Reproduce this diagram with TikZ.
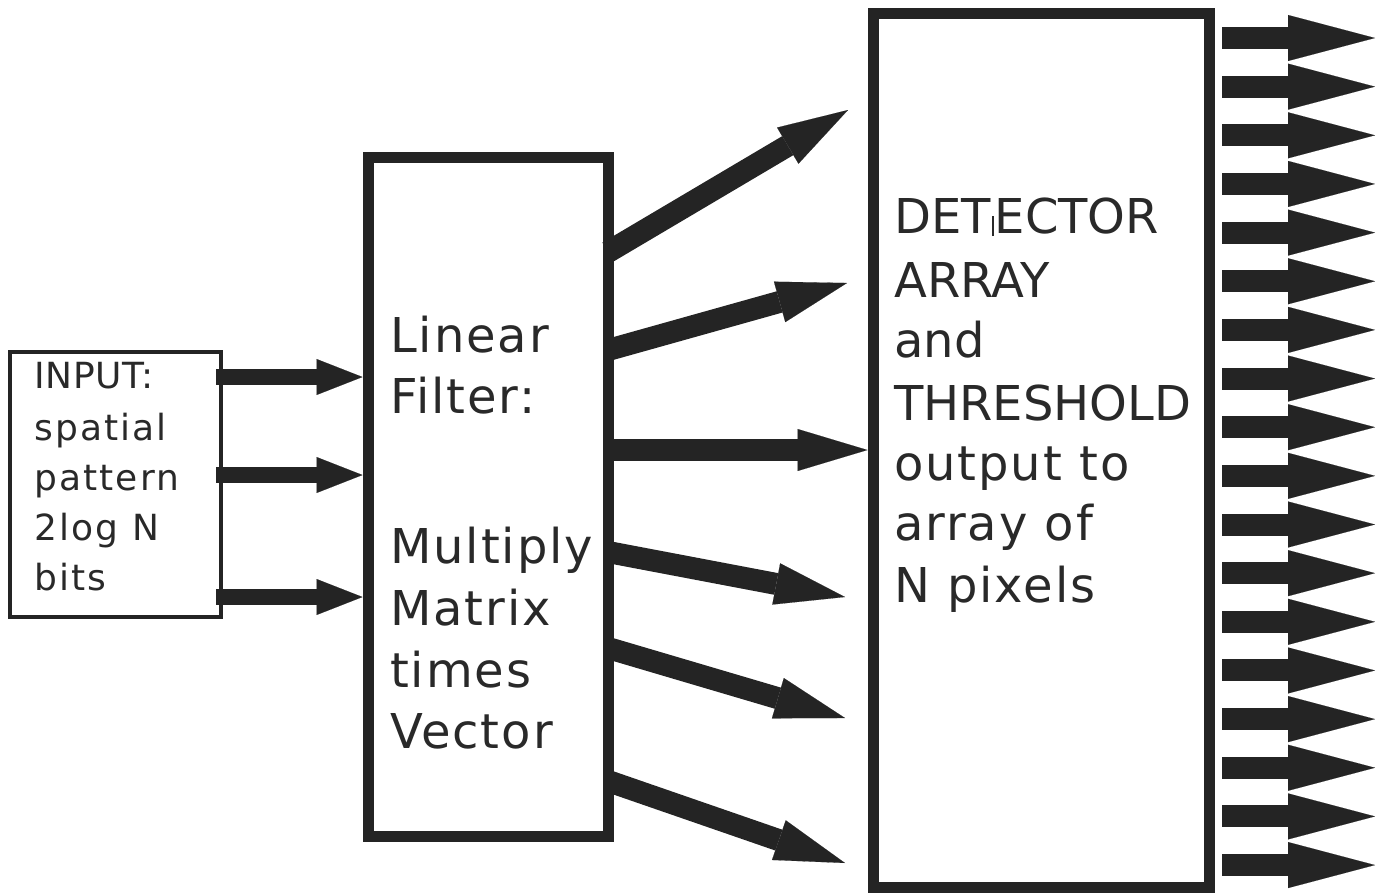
\documentclass[tikz,border=0pt]{standalone}
\usepackage{fontspec}
\setmainfont{DejaVu Sans}
\newfontfamily\wide[LetterSpace=4]{DejaVu Sans}
\newfontfamily\wider[LetterSpace=6]{DejaVu Sans}
\newfontfamily\slight[LetterSpace=2]{DejaVu Sans}
\usetikzlibrary{arrows.meta}
\definecolor{ink}{gray}{0.14}
\definecolor{txt}{gray}{0.16}
\begin{document}
\begin{tikzpicture}[x=1pt,y=-1pt,
  frame/.style={draw=ink,line width=11pt,inner sep=0pt,outer sep=0pt},
  thinframe/.style={draw=ink,line width=3.5pt,inner sep=0pt,outer sep=0pt},
  big/.style={anchor=base west,inner sep=0pt,text=txt,font=\fontsize{48}{58}\selectfont},
  bigwide/.style={big,font=\wide\fontsize{48}{58}\selectfont},
  small/.style={anchor=base west,inner sep=0pt,text=txt,font=\wider\fontsize{36}{44}\selectfont},
  smallcaps/.style={small,font=\slight\fontsize{36}{44}\selectfont},
  inarrow/.style={draw=ink,line width=16pt,line cap=butt,
    -{Triangle[length=46pt,width=36pt,line width=0.1pt]}},
  midarrow/.style={draw=ink,line width=22pt,line cap=butt,
    -{Triangle[length=70pt,width=42pt,line width=0.1pt]}},
  outarrow/.style={draw=ink,line width=22pt,line cap=butt,
    -{Triangle[length=87pt,width=46pt,line width=0.1pt]}},
]
\useasboundingbox (0,0) rectangle (1383,895);

% the three blocks
\node[thinframe, minimum width=211pt, minimum height=265pt] (inp) at (115.5,484.5) {};
\node[frame, minimum width=240pt, minimum height=679pt] (filt) at (488,496.5) {};
\node[frame, minimum width=336pt, minimum height=874pt] (det) at (1041,450) {};

% input block text
\node[smallcaps] (in1) at (34,388) {INPUT:};
\node[small] (in2) at (34,440) {spatial};
\node[small] (in3) at (34,490) {pattern};
\node[small] (in4) at (34,540) {2log N};
\node[small] (in5) at (34,590) {bits};

% filter block text
\node[bigwide] (f1) at (390,352) {Linear};
\node[bigwide] (f2) at (390,413) {Filter:};
\node[bigwide] (f3) at (390,563) {Multiply};
\node[bigwide] (f4) at (390,625) {Matrix};
\node[bigwide] (f5) at (390,687) {times};
\node[bigwide] (f6) at (390,748) {Vector};

% detector block text
\node[big] (d1) at (894,233) {DET\kern1pt\raisebox{-3pt}{\rule{2.5pt}{20pt}}\kern0.5pt ECTOR};
\node[big] (d2) at (894,297) {ARRAY};
\node[big] (d3) at (894,357) {and};
\node[big] (d4) at (894,420) {THRESHOLD};
\node[bigwide] (d5) at (894,480) {output to};
\node[bigwide] (d6) at (894,540) {array of};
\node[bigwide] (d7) at (894,602) {N pixels};

% input bits into the filter
\coordinate (r1) at (0,377);
\coordinate (r2) at (0,475);
\coordinate (r3) at (0,597);
\foreach \r in {r1,r2,r3}
  \draw[inarrow] ([xshift=-5pt]inp.east |- \r) -- ([xshift=-5.5pt]filt.west |- \r);

% filter outputs fanning towards the detector
\coordinate (s1) at (0,252);
\coordinate (s2) at (0,350);
\coordinate (s3) at (0,450);
\coordinate (s4) at (0,552);
\coordinate (s5) at (0,648);
\coordinate (s6) at (0,781);
\coordinate (t1) at (848,110);
\coordinate (t2) at (847,283);
\coordinate (t4) at (845,597);
\coordinate (t5) at (845,718);
\coordinate (t6) at (845,863);
\draw[midarrow] (filt.east |- s1) -- (t1);
\draw[midarrow] (filt.east |- s2) -- (t2);
\draw[midarrow] (filt.east |- s3) -- ([xshift=-5.5pt]det.west |- s3);
\draw[midarrow] (filt.east |- s4) -- (t4);
\draw[midarrow] (filt.east |- s5) -- (t5);
\draw[midarrow] (filt.east |- s6) -- (t6);

% N pixel outputs
\foreach \i in {0,...,17}{
  \pgfmathsetmacro\yy{38+48.65*\i}
  \coordinate (o\i) at (1375,\yy);
  \draw[outarrow] ([xshift=13pt]det.east |- o\i) -- (o\i);
}
\end{tikzpicture}
\end{document}
